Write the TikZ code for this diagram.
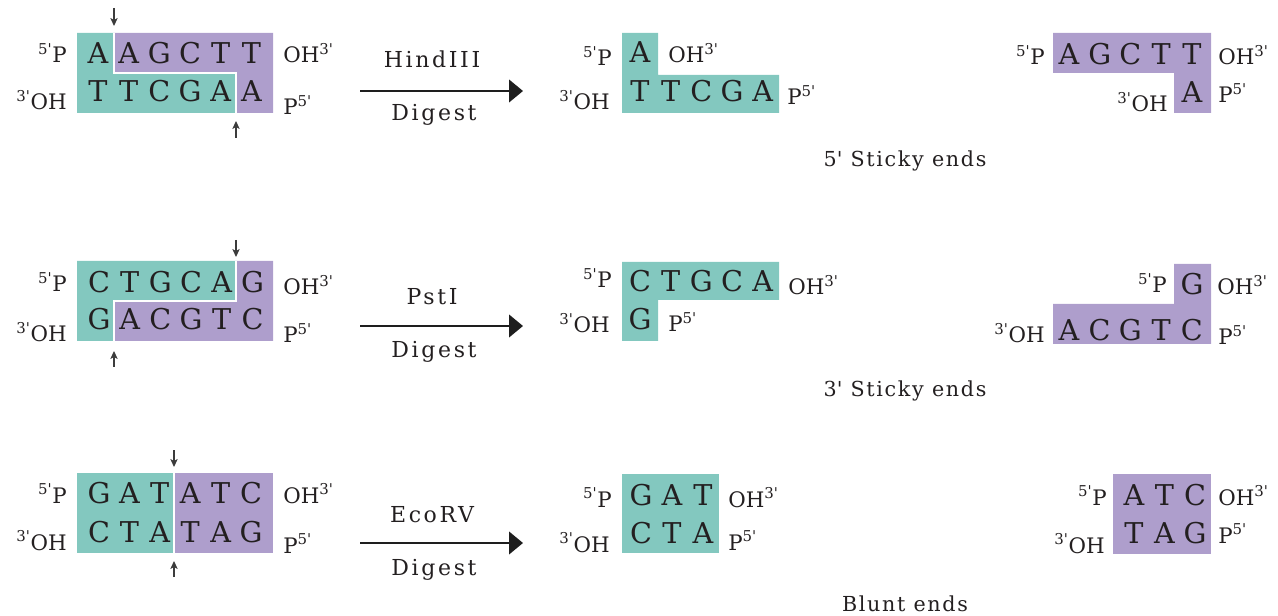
\documentclass[tikz,border=0pt]{standalone}
\usepackage{fontspec}
\setmainfont{DejaVu Serif}
\newfontfamily\enzfont{DejaVu Serif}[LetterSpace=12]
\newfontfamily\endsfont{DejaVu Serif}[LetterSpace=8]
\usetikzlibrary{arrows.meta}

\begin{document}
\begin{tikzpicture}[x=0.75pt,y=0.75pt,yscale=-1,
  txt/.style={anchor=base,inner sep=0pt,text={rgb, 255:red, 35; green, 31; blue, 32 }},
  nt/.style={txt,font=\fontsize{21.5}{21.5}\selectfont},
  lbl/.style={txt,font=\fontsize{16}{16}\selectfont},
  note/.style={txt,font=\enzfont\fontsize{16.5}{16.5}\selectfont},
  ends/.style={txt,font=\endsfont\fontsize{15.5}{15.5}\selectfont},
  tealpart/.style={draw=none,fill={rgb, 255:red, 131; green, 200; blue, 191 }},
  purplepart/.style={draw=none,fill={rgb, 255:red, 174; green, 158; blue, 204 }},
  seam/.style={white,line width=1.2},
  cut/.style={draw={rgb, 255:red, 60; green, 60; blue, 60 },line width=0.8,-{Stealth[length=6pt,width=5.5pt,inset=1.5pt]}},
  digest/.style={draw={rgb, 255:red, 30; green, 30; blue, 30 },line width=1.5,-{Triangle[length=10.5pt,width=17pt]}}
]
\useasboundingbox (0,0) rectangle (1278,616);

%%%%% HindIII
%Shape: original duplex
\fill[tealpart] (77,33) -- (114,33) -- (114,73) -- (236,73) -- (236,113) -- (77,113) -- cycle;
\fill[purplepart] (114,33) -- (273,33) -- (273,113) -- (236,113) -- (236,73) -- (114,73) -- cycle;
\draw[seam] (114,33) -- (114,73) -- (236,73) -- (236,113);
\foreach \b [count=\i] in {A,A,G,C,T,T}
  \node[nt] (hTop\i) at ({98+30.7*(\i-1)},64) {\b};
\foreach \b [count=\i] in {T,T,C,G,A,A}
  \node[nt] (hBot\i) at ({98+30.7*(\i-1)},102) {\b};
\node[lbl,anchor=base east] (hP1) at (67,63) {\textsuperscript{5\textquotesingle}P};
\node[lbl,anchor=base east] (hOH1) at (67,110) {\textsuperscript{3\textquotesingle}OH};
\node[lbl,anchor=base west] (hOH2) at (283,63) {OH\textsuperscript{3\textquotesingle}};
\node[lbl,anchor=base west] (hP2) at (283,115) {P\textsuperscript{5\textquotesingle}};
%cut sites
\coordinate (hCutA) at (114,8);
\coordinate (hCutAe) at (114,26);
\draw[cut] (hCutA) -- (hCutAe);
\coordinate (hCutB) at (236,138);
\coordinate (hCutBe) at (236,121);
\draw[cut] (hCutB) -- (hCutBe);
%digest arrow
\coordinate (hArrS) at (360,91);
\coordinate (hArrE) at (523,91);
\draw[digest] (hArrS) -- (hArrE);
\node[note] (hEnz) at (432,68) {HindIII};
\node[note] (hDig) at (434,121) {Digest};
%Shape: left fragment
\fill[tealpart] (622,33) -- (658,33) -- (658,75) -- (779,75) -- (779,113) -- (622,113) -- cycle;
\node[nt] (hlTop1) at (640,63) {A};
\foreach \b [count=\i] in {T,T,C,G,A}
  \node[nt] (hlBot\i) at ({640+30.7*(\i-1)},102) {\b};
\node[lbl,anchor=base east] (hlP1) at (612,66) {\textsuperscript{5\textquotesingle}P};
\node[lbl,anchor=base west] (hlOH2) at (668,63) {OH\textsuperscript{3\textquotesingle}};
\node[lbl,anchor=base east] (hlOH1) at (610,110) {\textsuperscript{3\textquotesingle}OH};
\node[lbl,anchor=base west] (hlP2) at (787,105) {P\textsuperscript{5\textquotesingle}};
%Shape: right fragment
\fill[purplepart] (1053,33) -- (1211,33) -- (1211,113) -- (1174,113) -- (1174,73) -- (1053,73) -- cycle;
\foreach \b [count=\i] in {A,G,C,T,T}
  \node[nt] (hrTop\i) at ({1069+30.7*(\i-1)},65) {\b};
\node[nt] (hrBot1) at (1192,103) {A};
\node[lbl,anchor=base east] (hrP1) at (1045,65) {\textsuperscript{5\textquotesingle}P};
\node[lbl,anchor=base west] (hrOH2) at (1218,65) {OH\textsuperscript{3\textquotesingle}};
\node[lbl,anchor=base east] (hrOH1) at (1168,112) {\textsuperscript{3\textquotesingle}OH};
\node[lbl,anchor=base west] (hrP2) at (1218,103) {P\textsuperscript{5\textquotesingle}};
% Text Node
\node[ends] (hEnds) at (905,167) {5\textquotesingle{} Sticky ends};

%%%%% PstI
%Shape: original duplex
\fill[tealpart] (77,261) -- (236,261) -- (236,301) -- (114,301) -- (114,341) -- (77,341) -- cycle;
\fill[purplepart] (236,261) -- (273,261) -- (273,341) -- (114,341) -- (114,301) -- (236,301) -- cycle;
\draw[seam] (236,261) -- (236,301) -- (114,301) -- (114,341);
\foreach \b [count=\i] in {C,T,G,C,A,G}
  \node[nt] (pTop\i) at ({99+30.7*(\i-1)},293) {\b};
\foreach \b [count=\i] in {G,A,C,G,T,C}
  \node[nt] (pBot\i) at ({99+30.7*(\i-1)},330) {\b};
\node[lbl,anchor=base east] (pP1) at (67,292) {\textsuperscript{5\textquotesingle}P};
\node[lbl,anchor=base east] (pOH1) at (67,342) {\textsuperscript{3\textquotesingle}OH};
\node[lbl,anchor=base west] (pOH2) at (283,295) {OH\textsuperscript{3\textquotesingle}};
\node[lbl,anchor=base west] (pP2) at (283,343) {P\textsuperscript{5\textquotesingle}};
%cut sites
\coordinate (pCutA) at (236,240);
\coordinate (pCutAe) at (236,257);
\draw[cut] (pCutA) -- (pCutAe);
\coordinate (pCutB) at (114,367);
\coordinate (pCutBe) at (114,351);
\draw[cut] (pCutB) -- (pCutBe);
%digest arrow
\coordinate (pArrS) at (360,326);
\coordinate (pArrE) at (523,326);
\draw[digest] (pArrS) -- (pArrE);
\node[note] (pEnz) at (432,305) {PstI};
\node[note] (pDig) at (434,358) {Digest};
%Shape: left fragment
\fill[tealpart] (622,262) -- (779,262) -- (779,300) -- (658,300) -- (658,341) -- (622,341) -- cycle;
\foreach \b [count=\i] in {C,T,G,C,A}
  \node[nt] (plTop\i) at ({640+30.7*(\i-1)},292) {\b};
\node[nt] (plBot1) at (640,330) {G};
\node[lbl,anchor=base east] (plP1) at (612,288) {\textsuperscript{5\textquotesingle}P};
\node[lbl,anchor=base west] (plOH2) at (788,295) {OH\textsuperscript{3\textquotesingle}};
\node[lbl,anchor=base east] (plOH1) at (610,333) {\textsuperscript{3\textquotesingle}OH};
\node[lbl,anchor=base west] (plP2) at (668,332) {P\textsuperscript{5\textquotesingle}};
%Shape: right fragment
\fill[purplepart] (1174,264) -- (1211,264) -- (1211,344) -- (1053,344) -- (1053,304) -- (1174,304) -- cycle;
\node[nt] (prTop1) at (1192,295) {G};
\foreach \b [count=\i] in {A,C,G,T,C}
  \node[nt] (prBot\i) at ({1069+30.7*(\i-1)},341) {\b};
\node[lbl,anchor=base east] (prP1) at (1167,293) {\textsuperscript{5\textquotesingle}P};
\node[lbl,anchor=base west] (prOH2) at (1217,295) {OH\textsuperscript{3\textquotesingle}};
\node[lbl,anchor=base east] (prOH1) at (1045,343) {\textsuperscript{3\textquotesingle}OH};
\node[lbl,anchor=base west] (prP2) at (1218,345) {P\textsuperscript{5\textquotesingle}};
% Text Node
\node[ends] (pEnds) at (905,397) {3\textquotesingle{} Sticky ends};

%%%%% EcoRV
%Shape: original duplex
\fill[tealpart] (77,473) rectangle (174,553);
\fill[purplepart] (174,473) rectangle (273,553);
\draw[seam] (174,473) -- (174,553);
\foreach \b [count=\i] in {G,A,T,A,T,C}
  \node[nt] (eTop\i) at ({99+30.4*(\i-1)},503) {\b};
\foreach \b [count=\i] in {C,T,A,T,A,G}
  \node[nt] (eBot\i) at ({99+30.4*(\i-1)},542) {\b};
\node[lbl,anchor=base east] (eP1) at (67,503) {\textsuperscript{5\textquotesingle}P};
\node[lbl,anchor=base east] (eOH1) at (67,550) {\textsuperscript{3\textquotesingle}OH};
\node[lbl,anchor=base west] (eOH2) at (283,503) {OH\textsuperscript{3\textquotesingle}};
\node[lbl,anchor=base west] (eP2) at (283,553) {P\textsuperscript{5\textquotesingle}};
%cut sites
\coordinate (eCutA) at (174,450);
\coordinate (eCutAe) at (174,467);
\draw[cut] (eCutA) -- (eCutAe);
\coordinate (eCutB) at (174,577);
\coordinate (eCutBe) at (174,561);
\draw[cut] (eCutB) -- (eCutBe);
%digest arrow
\coordinate (eArrS) at (360,543);
\coordinate (eArrE) at (523,543);
\draw[digest] (eArrS) -- (eArrE);
\node[note] (eEnz) at (432,522) {EcoRV};
\node[note] (eDig) at (434,575) {Digest};
%Shape: left fragment
\fill[tealpart] (622,474) rectangle (719,553);
\foreach \b [count=\i] in {G,A,T}
  \node[nt] (elTop\i) at ({641+31*(\i-1)},505) {\b};
\foreach \b [count=\i] in {C,T,A}
  \node[nt] (elBot\i) at ({641+31*(\i-1)},543) {\b};
\node[lbl,anchor=base east] (elP1) at (612,507) {\textsuperscript{5\textquotesingle}P};
\node[lbl,anchor=base west] (elOH2) at (728,507) {OH\textsuperscript{3\textquotesingle}};
\node[lbl,anchor=base east] (elOH1) at (610,552) {\textsuperscript{3\textquotesingle}OH};
\node[lbl,anchor=base west] (elP2) at (728,550) {P\textsuperscript{5\textquotesingle}};
%Shape: right fragment
\fill[purplepart] (1113,474) rectangle (1211,554);
\foreach \b [count=\i] in {A,T,C}
  \node[nt] (erTop\i) at ({1134+30.5*(\i-1)},505) {\b};
\foreach \b [count=\i] in {T,A,G}
  \node[nt] (erBot\i) at ({1134+30.5*(\i-1)},543) {\b};
\node[lbl,anchor=base east] (erP1) at (1107,505) {\textsuperscript{5\textquotesingle}P};
\node[lbl,anchor=base west] (erOH2) at (1218,505) {OH\textsuperscript{3\textquotesingle}};
\node[lbl,anchor=base east] (erOH1) at (1105,553) {\textsuperscript{3\textquotesingle}OH};
\node[lbl,anchor=base west] (erP2) at (1218,543) {P\textsuperscript{5\textquotesingle}};
% Text Node
\node[ends] (eEnds) at (905,611) {Blunt ends};

\end{tikzpicture}
\end{document}
